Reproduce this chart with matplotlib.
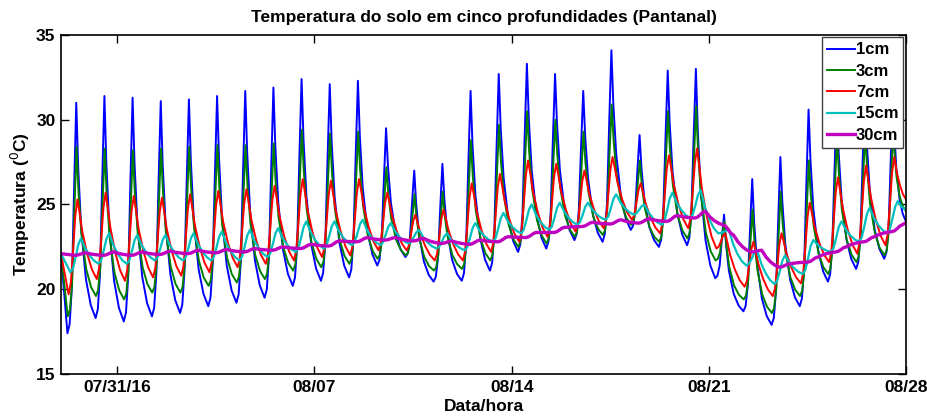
import numpy as np
import matplotlib
matplotlib.use('Agg')
import matplotlib.pyplot as plt
import matplotlib.dates as mdates
from datetime import datetime

# --- fontes ---
plt.rcParams['font.family'] = ['Liberation Sans', 'DejaVu Sans']
plt.rcParams['axes.linewidth'] = 1.2

# --- dados (temperatura do solo, °C) ---
inicio = datetime(2016, 7, 29)
fim = datetime(2016, 8, 28)
tick_datas = [datetime(2016, 7, 31), datetime(2016, 8, 7), datetime(2016, 8, 14),
              datetime(2016, 8, 21), datetime(2016, 8, 28)]
tick_rotulos = ['07/31/16', '08/07', '08/14', '08/21', '08/28']
profundidades = ['1cm', '3cm', '7cm', '15cm', '30cm']

# minimos e maximos diarios (um valor por dia, 07/29 ... 08/27)
min_1cm = [17.4, 18.3, 18.1, 18.4, 18.6, 19.0, 19.2, 19.5, 20.2, 20.5,
           20.7, 21.4, 21.9, 20.45, 20.5, 21.1, 22.2, 22.4, 22.9, 22.8,
           23.5, 22.5, 22.6, 20.65, 18.7, 17.9, 19.0, 20.45, 21.2, 21.8]
max_1cm = [31.0, 31.4, 31.3, 31.1, 31.2, 31.4, 31.7, 31.9, 32.4, 32.1,
           32.3, 29.5, 27.0, 27.4, 31.7, 32.7, 33.3, 32.7, 31.7, 34.1,
           29.1, 32.9, 33.0, 24.4, 26.5, 27.8, 30.6, 31.0, 31.5, 31.5]

min_3cm = [18.4, 19.6, 19.4, 19.8, 19.8, 20.2, 20.4, 20.6, 21.1, 21.3,
           21.5, 21.8, 22.0, 21.1, 21.2, 21.7, 22.5, 22.7, 23.1, 23.2,
           23.8, 22.8, 23.0, 21.7, 19.4, 18.6, 19.6, 20.9, 21.6, 22.0]
max_3cm = [28.4, 28.3, 28.2, 28.3, 28.4, 28.5, 28.5, 28.6, 29.4, 29.2,
           29.3, 27.2, 25.6, 25.75, 28.8, 29.7, 30.5, 30.0, 29.3, 30.9,
           27.6, 30.5, 30.8, 24.0, 24.7, 25.75, 27.6, 29.0, 29.3, 29.5]

min_7cm = [19.7, 20.6, 20.5, 20.7, 20.8, 21.0, 21.3, 21.5, 21.7, 21.9,
           22.0, 22.3, 22.3, 21.7, 21.7, 22.2, 22.8, 23.1, 23.4, 23.6,
           24.1, 23.3, 23.6, 22.4, 20.15, 19.6, 20.35, 21.6, 22.1, 22.6]
max_7cm = [25.3, 25.7, 25.5, 25.4, 25.6, 25.8, 25.9, 26.1, 26.5, 26.4,
           26.5, 25.7, 24.4, 24.7, 26.25, 26.8, 27.6, 27.4, 27.0, 27.8,
           26.25, 27.9, 28.3, 23.3, 22.8, 23.3, 25.1, 26.6, 27.3, 27.8]

min_15cm = [21.0, 21.5, 21.5, 21.7, 21.7, 21.7, 21.7, 21.9, 22.2, 22.4,
            22.6, 22.6, 22.7, 22.4, 22.3, 22.8, 23.3, 23.5, 23.8, 24.1,
            24.4, 23.8, 24.2, 23.3, 21.4, 20.3, 20.9, 22.2, 22.8, 23.3]
max_15cm = [23.0, 23.3, 23.2, 23.2, 23.3, 23.4, 23.5, 23.6, 24.0, 24.0,
            24.1, 23.9, 23.5, 23.3, 23.9, 24.5, 25.0, 25.1, 25.1, 25.6,
            25.0, 25.7, 25.85, 23.5, 22.3, 22.0, 22.9, 24.0, 24.8, 25.2]

min_30cm = [22.0, 22.0, 22.0, 22.05, 22.1, 22.15, 22.2, 22.3, 22.4, 22.55,
            22.8, 22.9, 22.85, 22.7, 22.65, 22.8, 23.05, 23.35, 23.7, 23.85,
            23.9, 24.0, 24.2, 23.8, 22.2, 21.3, 21.6, 22.2, 22.8, 23.4]
max_30cm = [22.15, 22.2, 22.2, 22.25, 22.3, 22.35, 22.4, 22.5, 22.65, 22.85,
            23.05, 23.05, 23.0, 22.85, 22.9, 23.1, 23.35, 23.65, 23.95, 24.1,
            24.15, 24.35, 24.6, 23.2, 22.3, 21.5, 21.9, 22.5, 23.1, 23.8]

temp_inicial = 22.1
temp_final = [24.0, 24.6, 25.3, 24.7, 23.9]

# hora do minimo e do maximo de cada profundidade
hora_min = [5.5, 5.75, 6.5, 8.0, 12.0]
hora_max = [13.0, 13.25, 14.0, 17.0, 21.0]

u_sobe = [0.0, 0.25, 0.5, 0.75, 1.0]
u_desce = [0.0, 0.1, 0.25, 0.5, 0.75, 1.0]
sobe_raso = [0.0, 0.04, 0.2, 0.62, 1.0]
desce_raso = [1.0, 0.7, 0.42, 0.18, 0.06, 0.0]
sobe_fundo = [0.0, 0.12, 0.45, 0.82, 1.0]
desce_fundo = [1.0, 0.85, 0.6, 0.32, 0.12, 0.0]

cores = ['#0000ff', '#008000', '#ff0000', '#00bfbf', '#bf00bf']
larguras = [1.4, 1.4, 1.4, 1.6, 2.4]


def monta_serie(tmin, tmax, h_min, h_max, sobe, desce, t_fim):
    t0 = mdates.date2num(inicio)
    n = len(tmin)
    tt = [t0]
    vv = [temp_inicial]
    for d in range(n):
        a = t0 + d + h_min / 24
        b = t0 + d + h_max / 24
        pontos = zip(u_sobe, sobe) if d == 0 else zip(u_sobe[1:], sobe[1:])
        for u, f in pontos:
            tt.append(a + u * (b - a))
            vv.append(tmin[d] + f * (tmax[d] - tmin[d]))
        if d + 1 < n:
            c = t0 + d + 1 + h_min / 24
            alvo = tmin[d + 1]
        else:
            c = t0 + n
            alvo = t_fim
        for u, f in zip(u_desce[1:], desce[1:]):
            tt.append(b + u * (c - b))
            vv.append(alvo + f * (tmax[d] - alvo))
    return tt, vv


minimos = [min_1cm, min_3cm, min_7cm, min_15cm, min_30cm]
maximos = [max_1cm, max_3cm, max_7cm, max_15cm, max_30cm]
formas = [(sobe_raso, desce_raso), (sobe_raso, desce_raso), (sobe_fundo, desce_fundo),
          (sobe_fundo, desce_fundo), (sobe_fundo, desce_fundo)]

fig = plt.figure(figsize=(9.27, 4.19), dpi=100)
ax = fig.add_axes([0.0658, 0.1074, 0.9115, 0.8091])

for i in range(5):
    tt, vv = monta_serie(minimos[i], maximos[i], hora_min[i], hora_max[i],
                         formas[i][0], formas[i][1], temp_final[i])
    ax.plot(tt, vv, color=cores[i], lw=larguras[i], label=profundidades[i])

ax.set_xlim(mdates.date2num(inicio), mdates.date2num(fim))
ax.set_ylim(15, 35)
ax.set_xticks(mdates.date2num(tick_datas))
ax.set_xticklabels(tick_rotulos)
ax.set_yticks([15, 20, 25, 30, 35])
ax.tick_params(direction='in', top=True, right=True, length=6, width=1,
               labelsize=12.5, pad=4)
for lab in ax.get_xticklabels() + ax.get_yticklabels():
    lab.set_fontweight('bold')

ax.set_title('Temperatura do solo em cinco profundidades (Pantanal)',
             fontsize=12.5, fontweight='bold', pad=9)
ax.set_xlabel('Data/hora', fontsize=12.5, fontweight='bold', labelpad=3)
ax.set_ylabel('Temperatura ($^0$C)', fontsize=12.5, fontweight='bold', labelpad=3)

leg = ax.legend(loc='upper right', bbox_to_anchor=(1.0, 1.0), borderaxespad=0.15,
                fancybox=False, framealpha=1, edgecolor='#404040',
                prop={'weight': 'bold', 'size': 12},
                handlelength=1.7, handletextpad=0.05, labelspacing=0.38,
                borderpad=0.3)
leg.get_frame().set_linewidth(1.0)

fig.savefig('out.png', dpi=100)
